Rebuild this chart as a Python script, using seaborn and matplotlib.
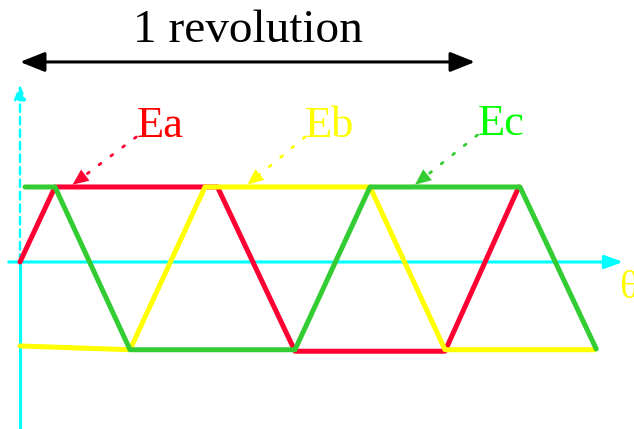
import pandas as pd
import seaborn as sns
import matplotlib.pyplot as plt

# Corner points of the three back-EMF traces
# (angle in electrical degrees, emf relative to the top flat)
theta_a = [0, 28, 158, 220, 340, 399]
emf_a = [0.0, 1.0, 1.0, -1.19, -1.19, 1.0]
theta_b = [0, 88, 148, 280, 340, 460]
emf_b = [-1.12, -1.17, 1.0, 1.0, -1.17, -1.17]
theta_c = [4, 28, 88, 220, 280, 400, 461]
emf_c = [1.0, 1.0, -1.17, -1.17, 1.0, 1.0, -1.16]

phases = ['Ea', 'Eb', 'Ec']
revolution = 364  # width of the "1 revolution" span

df = pd.concat([
  pd.DataFrame({'theta': t, 'emf': e, 'phase': p})
  for t, e, p in zip([theta_a, theta_b, theta_c],
                     [emf_a, emf_b, emf_c], phases)
], ignore_index=True)

line_colors = {'Ea': '#ff0033', 'Eb': '#ffff00', 'Ec': '#33cc33'}
text_colors = {'Ea': '#ff0000', 'Eb': '#ffff00', 'Ec': '#00ff00'}

sns.set_style('white')
plt.rcParams['font.family'] = ['Liberation Serif', 'DejaVu Serif']

fig = plt.figure(figsize=(6.34, 4.29), dpi=100)
ax = fig.add_axes([0, 0, 1, 1])
ax.set_xlim(-16, 491.2)
ax.set_ylim(-2.227, 3.493)
ax.axis('off')

# cyan axes: theta axis, and emf axis (solid below zero, dashed above)
cyan = '#00ffff'
ax.annotate('', xy=(482.5, 0), xytext=(-9, 0),
  arrowprops=dict(arrowstyle='-|>,head_length=1.1,head_width=0.4',
                  color=cyan, lw=2.2, shrinkA=0, shrinkB=0), zorder=1)
ax.plot([0, 0], [-2.3, 0], color=cyan, lw=2.2, zorder=1)
ax.annotate('', xy=(0, 2.37), xytext=(0, 0),
  arrowprops=dict(arrowstyle='-|>,head_length=0.9,head_width=0.35',
                  color=cyan, lw=1.8, ls=(0, (3, 2)),
                  shrinkA=0, shrinkB=0), zorder=1)
ax.text(479, -0.36, 'θ', color='#ffff00', fontsize=29,
  ha='left', va='center')

# the three trapezoidal back-EMF waveforms
sns.lineplot(data=df, x='theta', y='emf', hue='phase',
  hue_order=phases, palette=line_colors, estimator=None, sort=False,
  linewidth=3.6, legend=False, ax=ax, zorder=3,
  solid_capstyle='round', solid_joinstyle='round')

# phase labels with dotted pointers
label_spots = {'Ea': ((93, 1.667), (42, 1.03)),
               'Eb': ((228, 1.667), (182, 1.03)),
               'Ec': ((366, 1.693), (316, 1.03))}
for p in phases:
  txt, tip = label_spots[p]
  ax.text(txt[0], txt[1], p, color=text_colors[p], fontsize=32,
    ha='left', va='baseline', zorder=4)
  # dotted shaft
  ax.annotate('', xy=tip, xytext=txt,
    arrowprops=dict(arrowstyle='-', color=line_colors[p], lw=2,
                    ls=(0, (0.8, 4.5)), capstyle='round',
                    shrinkA=0, shrinkB=6),
    zorder=4)
  # solid head
  ax.annotate('', xy=tip, xytext=txt,
    arrowprops=dict(arrowstyle='-|>,head_length=1.15,head_width=0.5',
                    color=line_colors[p], lw=0, mutation_scale=10,
                    shrinkA=0, shrinkB=0),
    zorder=4)

# one mechanical revolution span
ax.annotate('', xy=(0, 2.667), xytext=(revolution, 2.667),
  arrowprops=dict(arrowstyle='<|-|>,head_length=1.5,head_width=0.6',
                  color='black', lw=2.2, shrinkA=0, shrinkB=0))
ax.text(revolution / 2, 2.933, '1 revolution', fontsize=34,
  color='black', ha='center', va='baseline')

plt.savefig('out.png', dpi=100)
